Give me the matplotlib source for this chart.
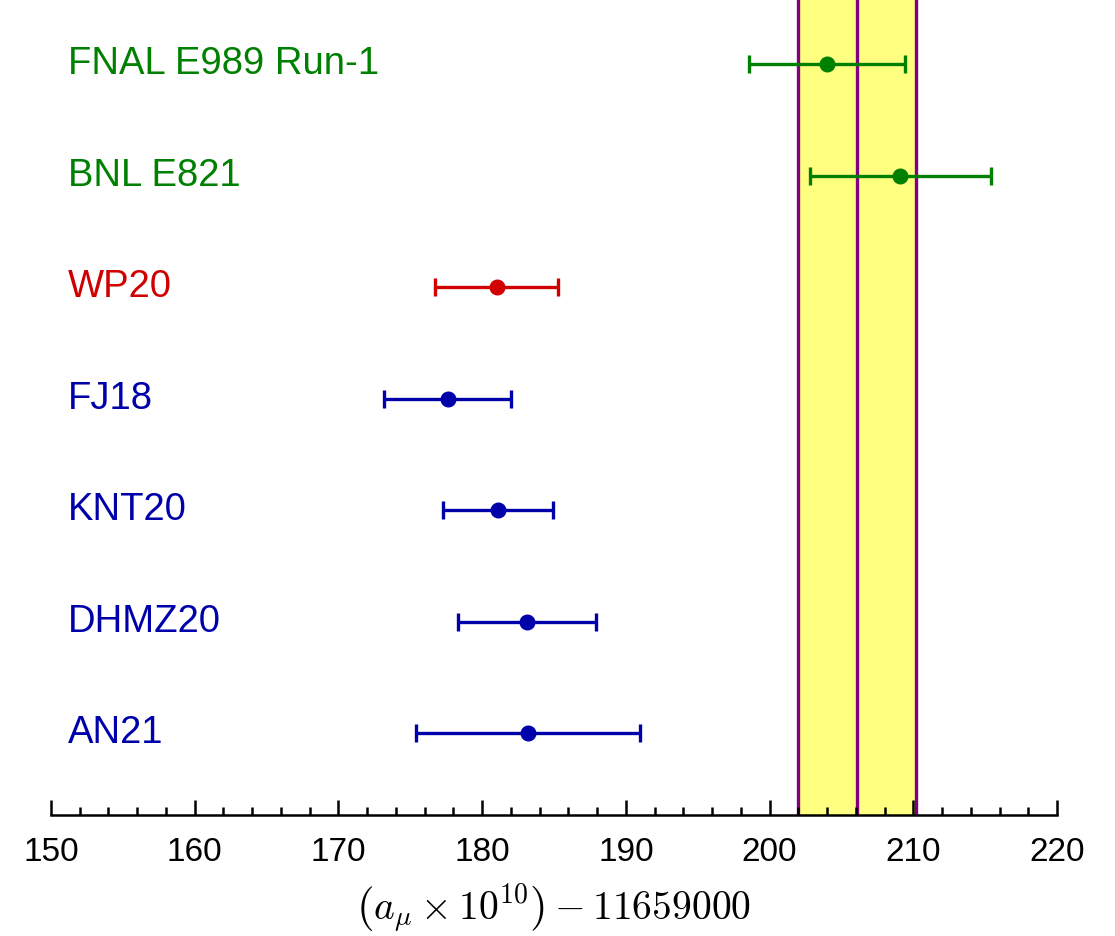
import matplotlib
matplotlib.use('Agg')
import matplotlib.pyplot as plt
from matplotlib.ticker import MultipleLocator

plt.rcParams['font.family'] = ['Liberation Sans', 'DejaVu Sans']
plt.rcParams['mathtext.fontset'] = 'cm'

# valores
labels = ['FNAL E989 Run-1', 'BNL E821', 'WP20', 'FJ18', 'KNT20', 'DHMZ20', 'AN21']
centers = [204.0, 209.1, 181.0, 177.6, 181.1, 183.1, 183.2]
errors = [5.4, 6.3, 4.3, 4.4, 3.8, 4.8, 7.8]
groups = ['exp', 'exp', 'wp', 'th', 'th', 'th', 'th']
band_center = 206.1
band_err = 4.1

cores = {'exp': '#008000', 'wp': '#d00000', 'th': '#0000aa'}
ypos = list(range(len(labels), 0, -1))

fig = plt.figure(figsize=(11.15, 9.36), dpi=100)
ax = fig.add_axes([51/1115, 121/936, 1006/1115, 815/936])

# faixa media
ax.axvspan(band_center - band_err, band_center + band_err, color='#ffff80', zorder=0)
for xv in (band_center - band_err, band_center, band_center + band_err):
    ax.axvline(xv, color='#800080', lw=2.4, zorder=1)

for lab, c, e, g, y in zip(labels, centers, errors, groups, ypos):
    ax.errorbar(c, y, xerr=e, fmt='o', color=cores[g], ms=10.5, lw=2.4,
                capsize=6.5, capthick=2.4, zorder=3)
    ax.text(151.2, y, lab, color=cores[g], fontsize=27.5, va='center', ha='left')

ax.set_xlim(150, 220)
ax.set_ylim(0.265, 7.574)
ax.xaxis.set_major_locator(MultipleLocator(10))
ax.xaxis.set_minor_locator(MultipleLocator(2))
ax.tick_params(axis='x', which='major', direction='in', length=11, width=1.8,
               labelsize=24, pad=16)
ax.tick_params(axis='x', which='minor', direction='in', length=5.5, width=1.8)
ax.set_yticks([])
for s in ('left', 'right', 'top'):
    ax.spines[s].set_visible(False)
ax.spines['bottom'].set_linewidth(1.8)
ax.spines['bottom'].set_zorder(4)
ax.set_xlabel(r'$\left(a_\mu\times 10^{10}\right)-11659000$', fontsize=28.5, labelpad=10)

fig.savefig('out.png', dpi=100)
